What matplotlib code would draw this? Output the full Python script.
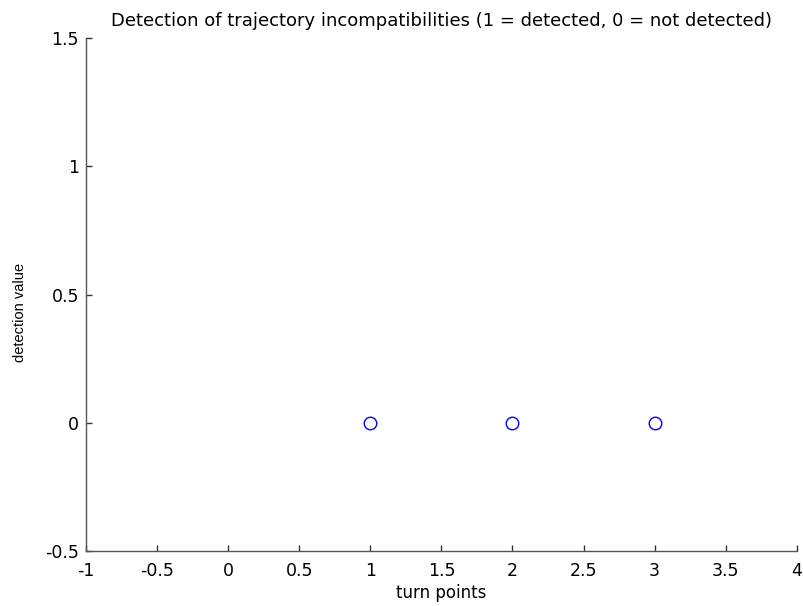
import matplotlib
matplotlib.use('Agg')
import matplotlib.pyplot as plt

# turn points and their detection values
turn_points = [1, 2, 3]
detection = [0, 0, 0]

x_ticks = [-1, -0.5, 0, 0.5, 1, 1.5, 2, 2.5, 3, 3.5, 4]
x_labels = ['-1', '-0.5', '0', '0.5', '1', '1.5', '2', '2.5', '3', '3.5', '4']
y_ticks = [-0.5, 0, 0.5, 1, 1.5]
y_labels = ['-0.5', '0', '0.5', '1', '1.5']

plt.rcParams['font.family'] = ['DejaVu Sans']

fig = plt.figure(figsize=(8.04, 6.06), dpi=100)
ax = fig.add_axes([0.107, 0.091, 0.884, 0.846])

ax.plot(turn_points, detection, 'o', markersize=9, markerfacecolor='none',
        markeredgecolor='#0000ff', markeredgewidth=1.0)

ax.set_xlim(-1, 4)
ax.set_ylim(-0.5, 1.5)
ax.set_xticks(x_ticks)
ax.set_xticklabels(x_labels)
ax.set_yticks(y_ticks)
ax.set_yticklabels(y_labels)

ax.spines['top'].set_visible(False)
ax.spines['right'].set_visible(False)
for s in ['left', 'bottom']:
    ax.spines[s].set_color('#555555')
    ax.spines[s].set_linewidth(1.0)
ax.tick_params(direction='in', length=4, width=1, color='#333333',
               labelsize=12.5)
ax.tick_params(axis='x', pad=8)
ax.tick_params(axis='y', pad=5)

ax.set_title('Detection of trajectory incompatibilities (1 = detected, 0 = not detected)',
             fontsize=13, pad=9)
ax.set_xlabel('turn points', fontsize=12, labelpad=3)
ax.set_ylabel('detection value', fontsize=10.5,
              family=['Liberation Sans Narrow', 'Liberation Sans', 'DejaVu Sans'])
ax.yaxis.set_label_coords(-0.083, 0.466)

fig.savefig('out.png', dpi=100)
